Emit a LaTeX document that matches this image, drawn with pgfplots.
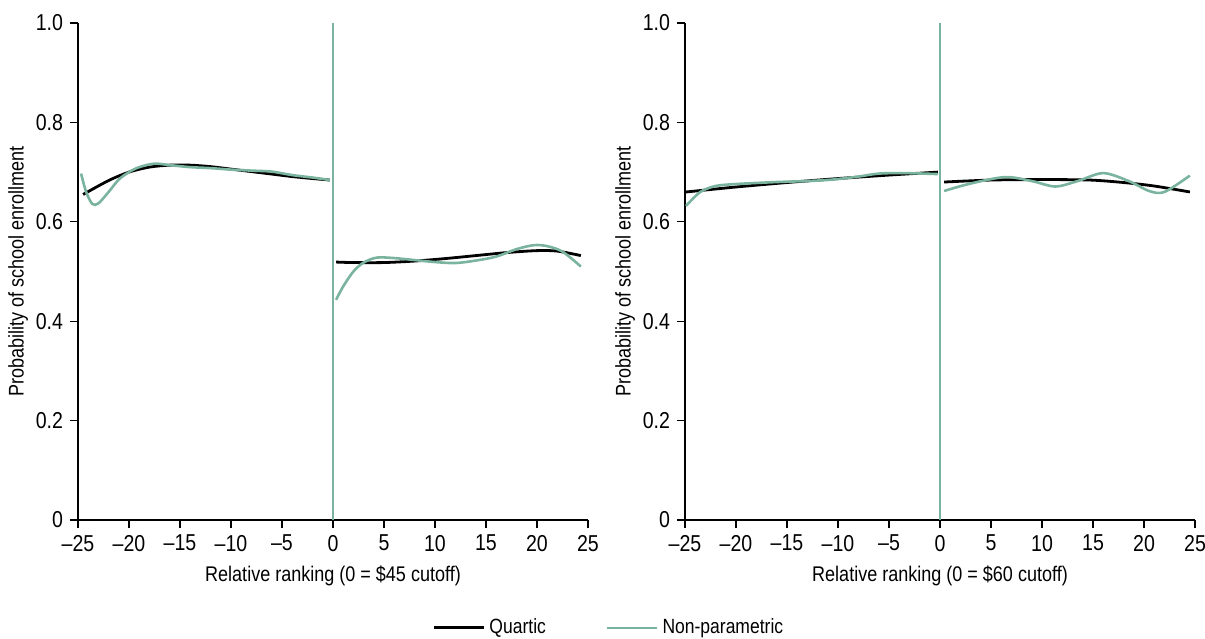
\documentclass[border=0pt]{standalone}
\usepackage{pgfplots}
\pgfplotsset{compat=1.18}
\usepackage{fontspec}
\setmainfont{Liberation Sans}[FakeStretch=0.85]
\definecolor{npgreen}{RGB}{122,180,158}
\pgfplotsset{
  myax/.style={
    scale only axis, width=255pt, height=248.5pt,
    xmin=-25, xmax=25, ymin=0, ymax=1,
    axis lines*=left,
    axis line style={line width=0.6pt},
    tick style={black, line width=0.6pt},
    tick align=outside, major tick length=4pt,
    xtick={-25,-20,...,25},
    xticklabels={–25,–20,–15,–10,–5,0,5,10,15,20,25},
    ytick={0,0.2,0.4,0.6,0.8,1.0},
    yticklabels={0,0.2,0.4,0.6,0.8,1.0},
    ticklabel style={font=\fontsize{11.5}{13}\selectfont},
    label style={font=\fontsize{10.6}{12}\selectfont},
    xlabel style={at={(axis description cs:0.5,0)}, anchor=center, yshift=-28pt},
    ylabel style={yshift=-3pt},
    /pgf/number format/assume math mode=true,
    clip=false,
  },
  quart/.style={black, line width=1.4pt, smooth, tension=0.5},
  np/.style={npgreen, line width=1.3pt, smooth, tension=0.5},
}
\begin{document}
\begin{tikzpicture}
\path[use as bounding box] (0,0) rectangle (602.5pt,319pt);
\begin{axis}[myax, at={(39pt,59pt)}, anchor=south west,
  xlabel={Relative ranking (0 = \$45 cutoff)},
  ylabel={Probability of school enrollment},
  legend columns=2,
  legend style={at={(axis description cs:1.043,-0.217)}, anchor=center, draw=none, fill=none,
    font=\fontsize{10.3}{12}\selectfont, /tikz/every even column/.append style={column sep=28pt}},
  legend image code/.code={\draw[#1] (0pt,0pt) -- (25pt,0pt);},
]
\addplot[npgreen, line width=0.8pt, forget plot] coordinates {(0,0) (0,1)};
\addplot[quart] coordinates {(-24.5,0.655) (-22,0.683) (-20,0.700) (-18,0.710) (-16,0.714) (-14,0.714) (-12,0.711) (-10,0.706) (-8,0.701) (-6,0.696) (-4,0.691) (-2,0.687) (-0.3,0.684)};
\addlegendentry{Quartic}
\addplot[np] coordinates {(-24.7,0.697) (-24.2,0.66) (-23.6,0.636) (-23,0.637) (-22,0.66) (-21,0.685) (-20,0.700) (-19,0.710) (-17.5,0.717) (-16,0.714) (-14,0.710) (-12,0.708) (-10,0.705) (-8,0.703) (-6,0.701) (-4,0.694) (-2,0.689) (-0.3,0.684)};
\addlegendentry{Non-parametric}
\addplot[quart, forget plot] coordinates {(0.3,0.519) (2,0.518) (5,0.518) (8,0.521) (11,0.526) (14,0.532) (17,0.538) (20,0.542) (22,0.541) (24.3,0.532)};
\addplot[np, forget plot] coordinates {(0.3,0.443) (1,0.47) (2,0.500) (3,0.518) (4.3,0.528) (6,0.527) (8,0.523) (10,0.519) (12,0.517) (14,0.522) (16,0.530) (18,0.545) (19.7,0.553) (21,0.551) (22.5,0.540) (24.3,0.510)};
\end{axis}
\begin{axis}[myax, at={(342.5pt,59pt)}, anchor=south west,
  xlabel={Relative ranking (0 = \$60 cutoff)},
  ylabel={Probability of school enrollment},
]
\addplot[npgreen, line width=0.8pt] coordinates {(0,0) (0,1)};
\addplot[quart] coordinates {(-24.9,0.660) (-20,0.670) (-15,0.679) (-10,0.687) (-5,0.694) (-0.2,0.700)};
\addplot[np] coordinates {(-24.9,0.632) (-23.5,0.660) (-22,0.672) (-20,0.676) (-16,0.680) (-13,0.682) (-10.5,0.685) (-8,0.691) (-6,0.697) (-3.5,0.698) (-0.2,0.696)};
\addplot[quart] coordinates {(0.4,0.680) (5,0.684) (10,0.685) (14.7,0.684) (18,0.679) (21,0.672) (24.5,0.660)};
\addplot[np] coordinates {(0.4,0.662) (3,0.677) (6.4,0.690) (9,0.682) (11.3,0.671) (13.5,0.682) (16,0.698) (18.5,0.682) (20.5,0.662) (22,0.660) (24.5,0.693)};
\end{axis}
\end{tikzpicture}
\end{document}
